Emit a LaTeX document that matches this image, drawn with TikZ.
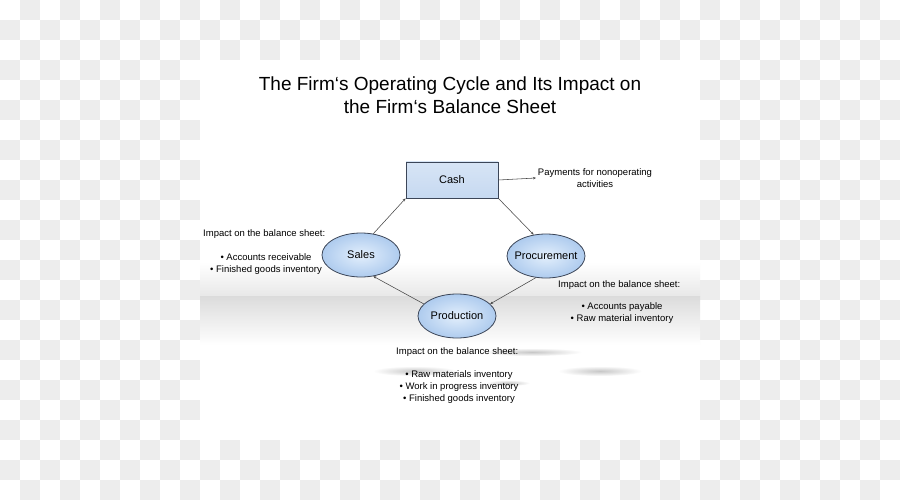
\documentclass[tikz,border=0pt]{standalone}
\usepackage{fontspec}
\setmainfont{Liberation Sans}
\usetikzlibrary{shapes.geometric,arrows.meta}
\definecolor{boxblue}{HTML}{C6D9F1}
\definecolor{ellout}{HTML}{AECBEE}
\definecolor{ellin}{HTML}{E3EFFC}
\definecolor{edgegray}{HTML}{3C4658}
\definecolor{checkgray}{HTML}{EDEDED}
\tikzset{
  cashbox/.style={draw=edgegray, line width=0.8pt, top color=boxblue!70!white, bottom color=boxblue, minimum width=92pt, minimum height=36pt, font=\fontsize{11}{13}\selectfont},
  stage/.style={ellipse, draw=edgegray, line width=0.8pt, inner color=ellin, outer color=ellout, minimum width=78pt, minimum height=44pt, inner xsep=-6pt, inner ysep=0pt, font=\fontsize{11}{13}\selectfont},
  flow/.style={draw=black!72, line width=0.55pt, -{Stealth[length=3pt,width=2.5pt]}},
  note/.style={align=center, font=\fontsize{9.5}{12}\selectfont, inner sep=0pt},
  reflect/.style={inner color=black!22, outer color=white},
}
\begin{document}
\begin{tikzpicture}[x=1pt,y=-1pt]
\useasboundingbox (0,0) rectangle (900,500);
% checkerboard background
\fill[white] (0,0) rectangle (900,500);
\foreach \i in {0,...,44} {
  \foreach \j in {0,...,24} {
    \pgfmathparse{int(mod(\i+\j,2))}
    \ifnum\pgfmathresult=1
      \fill[checkgray] (\i*20,\j*20) rectangle (\i*20+20,\j*20+20);
    \fi
  }
}
% slide
\fill[white] (200,60) rectangle (700,440);
\shade[top color=white, bottom color=black!9] (200,262) rectangle (700,296);
\shade[top color=black!14, bottom color=white] (200,296) rectangle (700,345);
% faint reflections
\shade[reflect] (415,371) ellipse (42pt and 5pt);
\shade[reflect] (600,371) ellipse (42pt and 5pt);
\shade[reflect] (532,352) ellipse (50pt and 4pt);
\shade[reflect] (508,383) ellipse (22pt and 3pt);

% title
\node[align=center, font=\fontsize{19}{23}\selectfont] (title) at (450,95)
  {The Firm‘s Operating Cycle and Its Impact on\\the Firm‘s Balance Sheet};

% nodes
\node[cashbox] (cash) at (452,180) {Cash};
\node[stage] (sales) at (361,255) {Sales};
\node[stage] (proc) at (546,256) {Procurement};
\node[stage] (prod) at (457,316) {Production};

% connectors
\draw[flow] (sales.60) -- (cash.south west);
\draw[flow] (cash.south east) -- (proc.120);
\draw[flow] (proc.-115) -- (prod.20);
\draw[flow] (prod.160) -- (sales.-60);

\node[note] (pay) at (595,178) {Payments for nonoperating\\activities};
\coordinate (payin) at (536,178);
\draw[flow] (cash.east) -- (payin);

% notes
\node[note, anchor=north west] (lefthead) at (203,229) {Impact on the balance sheet:};
\node[note] (leftlist) at (266,264) {• Accounts receivable\\• Finished goods inventory};

\node[note, anchor=north west] (righthead) at (558,280) {Impact on the balance sheet:};
\node[note] (rightlist) at (622,313) {• Accounts payable\\• Raw material inventory};

\node[note, anchor=north west] (bothead) at (396,347) {Impact on the balance sheet:};
\node[note] (botlist) at (459,387) {• Raw materials inventory\\• Work in progress inventory\\• Finished goods inventory};
\end{tikzpicture}
\end{document}
